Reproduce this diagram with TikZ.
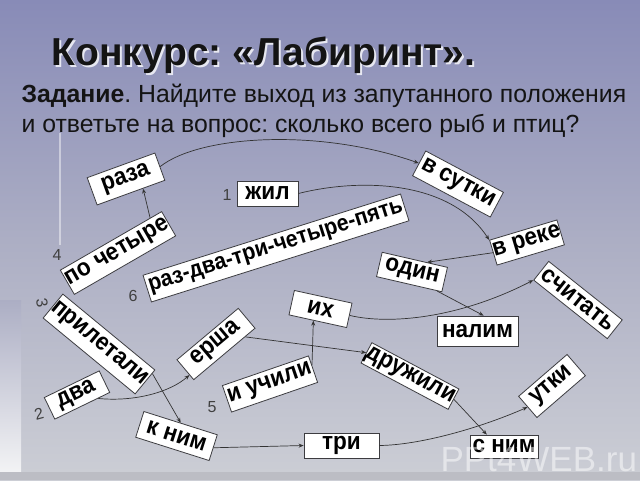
\documentclass[tikz,border=0pt]{standalone}
\usepackage{fontspec}
\setmainfont{Liberation Sans}
\newfontfamily\boxfont{Liberation Sans}[FakeStretch=0.92]
\usetikzlibrary{arrows.meta,calc}
\definecolor{bgtop}{RGB}{136,139,183}
\definecolor{bgmid}{RGB}{172,174,196}
\definecolor{bgbot}{RGB}{204,206,213}
\definecolor{edge}{RGB}{60,60,64}
\frenchspacing
\begin{document}
\begin{tikzpicture}[x=1pt,y=-1pt,
  box/.style={draw=edge, line width=0.8pt, fill=white, inner sep=0pt,
    font=\boxfont\fontsize{24.5}{24.5}\selectfont\bfseries, text=black},
  num/.style={font=\fontsize{16}{16}\selectfont, text=black!75},
  link/.style={draw=black!80, line width=0.7pt, -{Stealth[length=5pt,width=4pt]}}]
\shade[top color=bgtop, bottom color=bgbot, middle color=bgmid] (0,0) rectangle (640,480);
\useasboundingbox (0,0) rectangle (640,480);
\shade[top color=bgmid, bottom color=white!75!bgbot] (0,300) rectangle (21,472);
\fill[bgbot!92!black] (0,472) rectangle (640,480);
\draw[white, line width=1.6pt, opacity=0.45] (60,133) -- (60,245);
% title
\node[anchor=base west, font=\fontsize{39}{39}\selectfont\bfseries, text=white!80!bgtop] (tshadow) at (50,67) {Конкурс: «Лабиринт».};
\node[anchor=base west, font=\fontsize{39}{39}\selectfont\bfseries, text=black!92] (title) at (48,65) {Конкурс: «Лабиринт».};
\node[anchor=base west, font=\fontsize{24.8}{25}\selectfont, text=black!92] (sub1) at (18,102) {\textbf{Задание}. Найдите выход из запутанного положения};
\node[anchor=base west, font=\fontsize{24.8}{25}\selectfont, text=black!92] (sub2) at (18,132) {и ответьте на вопрос: сколько всего рыб и птиц?};
% nodes
\node[box, rotate=20, minimum width=72, minimum height=29] (raza) at (126,179) {раза};
\node[box, minimum width=61, minimum height=25] (zhil) at (267.5,193.5) {жил};
\node[box, rotate=30, minimum width=117, minimum height=28] (poch) at (118,253) {по четыре};
\node[box, rotate=17.5, minimum width=270, minimum height=28, font=\boxfont\fontsize{23.2}{23.2}\selectfont\bfseries] (raz) at (276,248) {раз-два-три-четыре-пять};
\node[box, rotate=-28, minimum width=88, minimum height=28] (vsut) at (458,184) {в сутки};
\node[box, rotate=16.7, minimum width=70, minimum height=26] (vreke) at (527,242.5) {в реке};
\node[box, rotate=-13, minimum width=67, minimum height=25] (odin) at (412,272) {один};
\node[box, rotate=-38.5, minimum width=94, minimum height=24] (schit) at (578,300) {считать};
\node[box, rotate=-12.4, minimum width=59, minimum height=25] (ih) at (320.5,309) {их};
\node[box, minimum width=81, minimum height=30] (nalim) at (477.5,331) {налим};
\node[box, rotate=-39.5, minimum width=110, minimum height=31] (pril) at (99,344) {прилетали};
\node[box, rotate=25.9, minimum width=61, minimum height=24] (dva) at (77,395) {два};
\node[box, rotate=40, minimum width=80, minimum height=26] (ersha) at (216,344) {ерша};
\node[box, rotate=19, minimum width=91, minimum height=28] (iuch) at (270,384) {и учили};
\node[box, rotate=-28, minimum width=96, minimum height=23] (druzh) at (410,376) {дружили};
\node[box, rotate=-17.6, minimum width=77, minimum height=27] (knim) at (176.5,436) {к ним};
\node[box, minimum width=75, minimum height=25] (tri) at (341.5,445.5) {три};
\node[box, minimum width=68, minimum height=23] (snim) at (504,446.5) {с ним};
\node[box, rotate=40.8, minimum width=64, minimum height=28] (utki) at (552,386) {утки};
% numbers
\node[num] (n1) at (227,195) {1};
\node[num] (n4) at (57,255) {4};
\node[num, rotate=-80] (n3) at (42,303) {3};
\node[num] (n6) at (133,296) {6};
\node[num, rotate=15] (n2) at (39,414) {2};
\node[num] (n5) at (212,407) {5};
% links
\draw[link] (raza.east) .. controls (200,135) and (320,128) .. (vsut.west);
\draw[link] (zhil.east) .. controls (360,178) and (450,180) .. (vreke.north west);
\draw[link] ($(poch.north)!0.77!(poch.north east)$) -- ($(raza.south)!0.35!(raza.south east)$);
\draw[link] (vreke.west) -- ($(odin.north)!0.37!(odin.north east)$);
\draw[link] ($(odin.south)!0.85!(odin.south east)$) -- ($(nalim.north)!0.15!(nalim.north east)$);
\draw[link] (ih.east) .. controls (390,325) and (460,318) .. (schit.south west);
\draw[link] ($(pril.east)!0.7!(pril.north east)$) -- (knim.north);
\draw[link] ($(dva.south)!0.57!(dva.south east)$) .. controls (135,402) and (170,392) .. ($(ersha.west)!0.5!(ersha.south west)$);
\draw[link] ($(ersha.south)!0.67!(ersha.south east)$) -- (druzh.west);
\draw[link] ($(iuch.east)!0.3!(iuch.north east)$) -- ($(ih.south)!0.15!(ih.south west)$);
\draw[link] (knim.east) -- (tri.west);
\draw[link] (druzh.east) -- ($(snim.north)!0.5!(snim.north west)$);
\draw[link] (tri.east) .. controls (420,445) and (480,428) .. (utki.west);
% watermark
\node[anchor=base west, font=\fontsize{35}{35}\selectfont, text=white, opacity=0.5] (wm) at (437,471) {PPt4WEB.ru};
\end{tikzpicture}
\end{document}
